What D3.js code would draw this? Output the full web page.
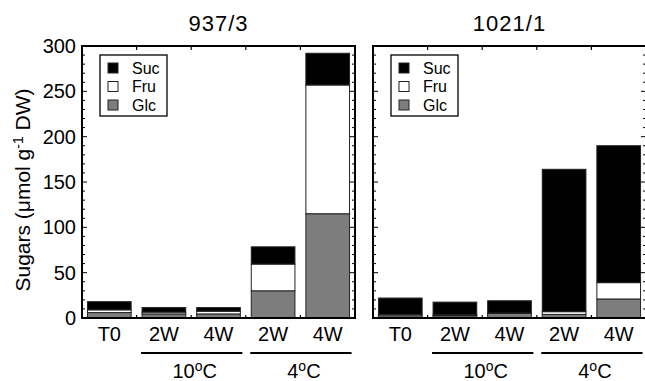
<!DOCTYPE html>
<html><head><meta charset="utf-8">
<script src="https://cdn.jsdelivr.net/npm/d3@7"></script>
<style>body{margin:0;background:#fff}svg{display:block}text{font-family:"Liberation Sans",Arial,sans-serif;fill:#000}</style>
</head><body>
<svg id="c" width="645" height="381"></svg>
<script>
const categories = ["T0","2W","4W","2W","4W"];
const panelTitles = ["937/3","1021/1"];
const seriesKeys = ["Glc","Fru","Suc"];
const legendOrder = ["Suc","Fru","Glc"];
// panel 937/3
const glc937 = [6, 4.5, 4.5, 30, 115];
const fru937 = [3, 2, 3, 29.5, 142];
const suc937 = [9, 5, 4, 19, 35];
// panel 1021/1
const glc1021 = [2.5, 2.5, 5, 4, 21];
const fru1021 = [1.5, 1, 0.5, 3, 18];
const suc1021 = [18, 14, 13.5, 157, 151];
const yTicks = [0, 50, 100, 150, 200, 250, 300];
const groupLabels = ["10", "4"];
const groupStart = [1, 3];
const groupEnd = [2, 4];

const colors = {Glc:"#7d7d7d", Fru:"#ffffff", Suc:"#000000"};
const svg = d3.select("#c");
const yTop = 46, yBottom = 318;
const y = d3.scaleLinear().domain([0,300]).range([yBottom, yTop]);
const panelX = [[82,355],[373,646]];
const panelData = [
  [glc937, fru937, suc937],
  [glc1021, fru1021, suc1021]
];

panelData.forEach((arrs, p) => {
  const [x0, x1] = panelX[p];
  const x = d3.scaleBand().domain(d3.range(categories.length)).range([x0, x1]).paddingInner(0.2).paddingOuter(0.1);
  const rows = categories.map((c, i) => ({i, Glc: arrs[0][i], Fru: arrs[1][i], Suc: arrs[2][i]}));
  const stacked = d3.stack().keys(seriesKeys)(rows);
  const g = svg.append("g");
  stacked.forEach(s => {
    g.selectAll(null).data(s).enter().append("rect")
      .attr("x", d => x(d.data.i))
      .attr("width", x.bandwidth())
      .attr("y", d => y(d[1]))
      .attr("height", d => y(d[0]) - y(d[1]))
      .attr("fill", colors[s.key])
      .attr("stroke", "#222").attr("stroke-width", 1);
  });
  // frame
  g.append("rect").attr("x", x0).attr("y", yTop).attr("width", x1 - x0).attr("height", yBottom - yTop)
    .attr("fill", "none").attr("stroke", "#000").attr("stroke-width", 2);
  // vertical ticks left/right
  const minor = d3.range(0, 301, 10);
  [x0, x1].forEach((ax, k) => {
    const dir = k === 0 ? 1 : -1;
    g.selectAll(null).data(minor).enter().append("line")
      .attr("x1", ax).attr("x2", d => ax + dir * (d % 50 === 0 ? 5 : 3))
      .attr("y1", d => y(d)).attr("y2", d => y(d))
      .attr("stroke", "#000").attr("stroke-width", 1);
  });
  // band boundary ticks top & bottom
  const bounds = d3.range(1, categories.length).map(i => x0 + (x1 - x0) * i / categories.length);
  g.selectAll(null).data(bounds).enter().append("line")
    .attr("x1", d => d).attr("x2", d => d).attr("y1", yBottom).attr("y2", yBottom - 3)
    .attr("stroke", "#000").attr("stroke-width", 1.2);
  g.selectAll(null).data(bounds).enter().append("line")
    .attr("x1", d => d).attr("x2", d => d).attr("y1", yTop).attr("y2", yTop + 4)
    .attr("stroke", "#000").attr("stroke-width", 1.2);
  // title
  g.append("text").attr("x", (x0 + x1) / 2).attr("y", 31).attr("text-anchor", "middle")
    .attr("font-size", 22).attr("letter-spacing", 1).text(panelTitles[p]);
  // category labels
  g.selectAll(null).data(categories).enter().append("text")
    .attr("x", (d, i) => x(i) + x.bandwidth() / 2).attr("y", 341)
    .attr("text-anchor", "middle").attr("font-size", 20).text(d => d);
  // group lines & labels
  groupLabels.forEach((lab, k) => {
    const gx0 = x(groupStart[k]) - 1, gx1 = x(groupEnd[k]) + x.bandwidth() + 2;
    g.append("line").attr("x1", gx0).attr("x2", gx1).attr("y1", 353).attr("y2", 353)
      .attr("stroke", "#000").attr("stroke-width", 2);
    const t = g.append("text").attr("x", (gx0 + gx1) / 2 + 3).attr("y", 378)
      .attr("text-anchor", "middle").attr("font-size", 20);
    t.append("tspan").text(lab);
    t.append("tspan").attr("font-size", 14).attr("dy", -7).text("o");
    t.append("tspan").attr("dy", 7).text("C");
  });
  // legend
  const lx = x0 + 18, ly = 55;
  g.append("rect").attr("x", lx).attr("y", ly).attr("width", 67).attr("height", 61)
    .attr("fill", "#fff").attr("stroke", "#000").attr("stroke-width", 1.3);
  legendOrder.forEach((k, j) => {
    const cy = ly + 13 + j * 18.5;
    g.append("rect").attr("x", lx + 8).attr("y", cy - 5).attr("width", 10).attr("height", 10)
      .attr("fill", colors[k]).attr("stroke", "#222").attr("stroke-width", 1);
    g.append("text").attr("x", lx + 32).attr("y", cy + 5.5).attr("font-size", 16).text(k);
  });
  // y tick labels on the left panel only
  if (p === 0) {
    g.selectAll(null).data(yTicks).enter().append("text")
      .attr("x", x0 - 6).attr("y", d => y(d) + 7)
      .attr("text-anchor", "end").attr("font-size", 20).text(d => d);
  }
});

// y axis title
const yt = svg.append("text").attr("transform", "translate(30," + ((yTop + yBottom) / 2 + 8) + ") rotate(-90)")
  .attr("text-anchor", "middle").attr("font-size", 21);
yt.append("tspan").text("Sugars (\u03BCmol g");
yt.append("tspan").attr("font-size", 14).attr("dy", -7).text("-1");
yt.append("tspan").attr("dy", 7).text(" DW)");
</script>
</body></html>
